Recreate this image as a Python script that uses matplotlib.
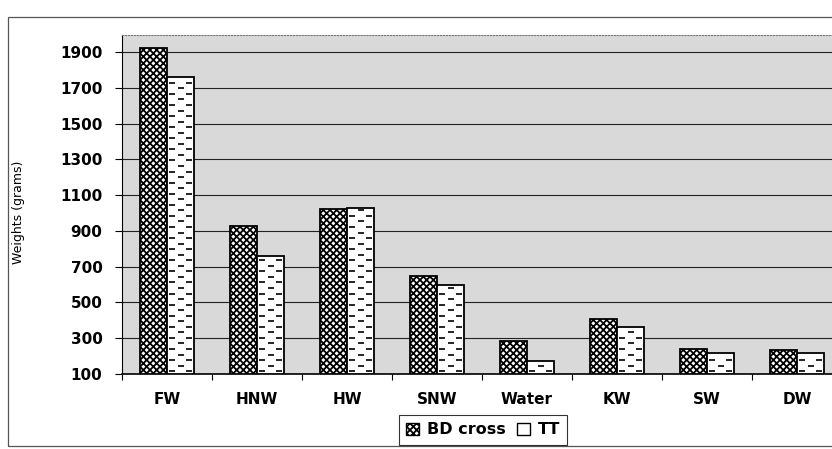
# Bar chart: weights of body parts, BD cross vs TT
import numpy as np
import matplotlib.pyplot as plt
from matplotlib.patches import Rectangle, Patch

# data
categories = ['FW', 'HNW', 'HW', 'SNW', 'Water', 'KW', 'SW', 'DW']
bd_cross = [1920, 930, 1020, 650, 285, 405, 240, 235]
tt = [1760, 760, 1030, 595, 175, 365, 215, 215]
yticks = [100, 300, 500, 700, 900, 1100, 1300, 1500, 1700, 1900]

plt.rcParams['font.family'] = ['DejaVu Sans']
plt.rcParams['hatch.linewidth'] = 1.3

fig = plt.figure(figsize=(8.32, 4.49), dpi=100)
W, H = 832, 449

# outer chart border (chart continues past the right edge of the picture)
fig.patches.append(Rectangle((8 / W, 1 - 446 / H), 1.1, (446 - 17) / H,
                             transform=fig.transFigure, fill=False,
                             edgecolor='#555555', linewidth=0.9))

ax = fig.add_axes([122 / W, 1 - 374 / H, (842 - 122) / W, (374 - 35) / H])
ax.set_facecolor('#d9d9d9')

x = np.arange(len(categories))
bw = 0.3
ax.bar(x - bw / 2, [v - 100 for v in bd_cross], bw, bottom=100,
       facecolor='white', edgecolor='black', hatch='xxxxx', linewidth=1.3,
       zorder=3)
ax.bar(x + bw / 2, [v - 100 for v in tt], bw, bottom=100,
       facecolor='white', edgecolor='black', linewidth=1.3, zorder=3)

# little dashes inside TT bars (staggered rows)
step = 31
dl = 0.055
for i, v in enumerate(tt):
    xc = x[i] + bw / 2
    k = 0
    y = 100 + step / 2
    while y < v - 8:
        if k % 2 == 0:
            xs = [xc - bw / 2 + dl, xc + bw / 2 - dl]
        else:
            xs = [xc]
        ax.plot(xs, [y] * len(xs), ls='none', marker='_', ms=5, mew=1.2,
                color='black', zorder=4)
        y += step
        k += 1

ax.set_ylim(100, 1995)
ax.set_xlim(-0.5, len(categories) - 0.5)
ax.set_yticks(yticks)
ax.set_yticklabels([str(t) for t in yticks], fontsize=11, fontweight='bold')
ax.yaxis.grid(True, color='#222222', linewidth=0.8, zorder=1)
ax.set_axisbelow(True)
ax.tick_params(axis='y', length=5, width=0.8, pad=9)

ax.set_xticks(x)
ax.set_xticklabels(categories, fontsize=11, fontweight='bold')
ax.tick_params(axis='x', which='major', length=0, pad=13)
ax.set_xticks(np.arange(-0.5, len(categories)), minor=True)
ax.tick_params(axis='x', which='minor', length=4, width=0.8)

ax.spines['left'].set_color('black')
ax.spines['bottom'].set_color('black')
ax.spines['bottom'].set_linewidth(1.2)
ax.spines['top'].set_color('#777777')
ax.spines['top'].set_linestyle(':')
ax.spines['right'].set_visible(False)

fig.text(19 / W, 1 - 212 / H, 'Weights (grams)', rotation=90,
         ha='center', va='center', fontsize=9)

handles = [Patch(facecolor='white', edgecolor='black', hatch='xxxxx', label='BD cross'),
           Patch(facecolor='white', edgecolor='black', label='TT')]
leg = fig.legend(handles=handles, loc='center', bbox_to_anchor=(483 / W, 1 - 430 / H),
                 ncol=2, frameon=True, fancybox=False, edgecolor='black',
                 prop={'weight': 'bold', 'size': 11.5}, handlelength=0.8,
                 handleheight=0.8, handletextpad=0.5, columnspacing=0.7,
                 borderpad=0.45)
leg.get_frame().set_linewidth(0.8)

fig.savefig('out.png', dpi=100)
